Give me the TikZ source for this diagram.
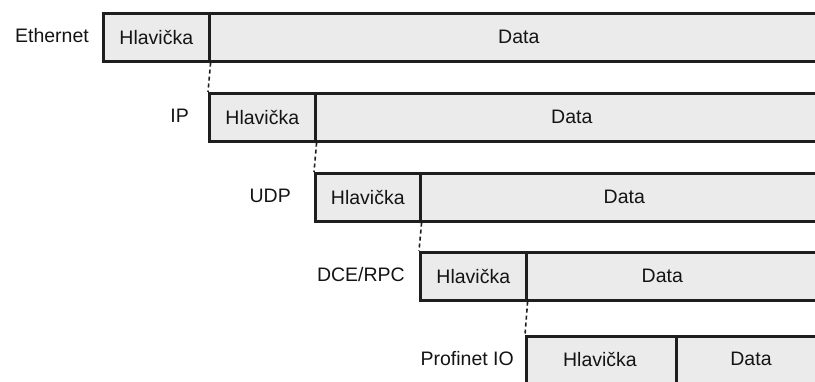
\documentclass[tikz,border=0pt]{standalone}
\usepackage{fontspec}
\setmainfont{Liberation Sans}
\definecolor{cellfill}{HTML}{EBEBEB}
\definecolor{edge}{HTML}{1E1E1E}
\definecolor{ink}{HTML}{141414}
\tikzset{
  x=1pt, y=-1pt,
  txt/.style={font=\fontsize{19.5}{23}\selectfont, text=ink},
  cell/.style={draw=edge, fill=cellfill, line width=2.6pt, rectangle,
    minimum height=48pt, inner sep=0pt, anchor=north west, txt},
  layer/.style={anchor=east, inner sep=0pt, txt},
  link/.style={draw=edge, line width=1.6pt, dash pattern=on 4pt off 3pt},
}
\begin{document}
\begin{tikzpicture}
\useasboundingbox (0,0) rectangle (815,381);
\clip (0,0) rectangle (815,381);

% Ethernet frame
\node[cell, minimum width=106pt] (h1) at (102,12) {Hlavička};
\node[cell, minimum width=619pt] (d1) at (208,12) {Data};
\node[layer] (l1) at (89,36) {Ethernet};

% IP packet
\node[cell, minimum width=106pt] (h2) at (208,92) {Hlavička};
\node[cell, minimum width=513pt] (d2) at (314,92) {Data};
\node[layer] (l2) at (189,116) {IP};

% UDP datagram
\node[cell, minimum width=105pt] (h3) at (314,172) {Hlavička};
\node[cell, minimum width=408pt] (d3) at (419,172) {Data};
\node[layer] (l3) at (291,196) {UDP};

% DCE/RPC
\node[cell, minimum width=106pt] (h4) at (419,251) {Hlavička};
\node[cell, minimum width=302pt, label={[xshift=-15pt, txt]center:Data}] (d4) at (525,251) {};
\node[layer] (l4) at (405,275) {DCE/RPC};

% Profinet IO (runs past the lower edge)
\node[cell, minimum width=150pt, minimum height=56pt, text depth=0pt] (h5) at (525,335) {};
\node[cell, minimum width=152pt, minimum height=56pt] (d5) at (675,335) {};
\node[txt] (t5) at (600,359) {Hlavička};
\node[txt] (t6) at (751,359) {Data};
\node[layer] (l5) at (514,359) {Profinet IO};

% payload start of each layer
\draw[link] (h1.south east) -- (h2.north west);
\draw[link] (h2.south east) -- (h3.north west);
\draw[link] (h3.south east) -- (h4.north west);
\draw[link] (h4.south east) -- (h5.north west);
\end{tikzpicture}
\end{document}
